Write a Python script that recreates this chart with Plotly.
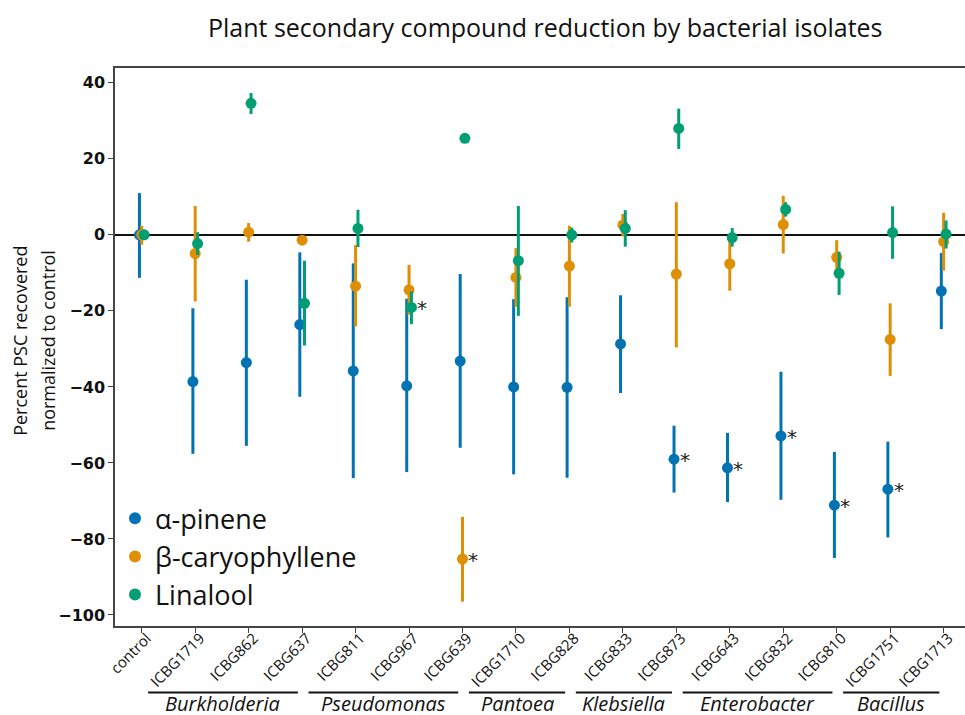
import plotly.graph_objects as go

categories = ["control", "ICBG1719", "ICBG862", "ICBG637", "ICBG811", "ICBG967", "ICBG639",
              "ICBG1710", "ICBG828", "ICBG833", "ICBG873", "ICBG643", "ICBG832", "ICBG810",
              "ICBG1751", "ICBG1713"]

# alpha-pinene
pinene_mean = [0, -38.6, -33.6, -23.6, -35.8, -39.7, -33.2, -40.0, -40.1, -28.7, -59.0, -61.3, -52.9, -71.1, -66.9, -14.8]
pinene_hi   = [11.0, -19.3, -11.8, -4.6, -7.5, -16.8, -10.3, -16.9, -16.4, -15.9, -50.2, -52.1, -36.0, -57.1, -54.4, -4.8]
pinene_lo   = [-11.3, -57.6, -55.5, -42.6, -64.0, -62.4, -56.0, -63.0, -63.9, -41.6, -67.8, -70.3, -69.7, -85.0, -79.6, -24.8]
pinene_sig  = [False, False, False, False, False, False, False, False, False, False, True, True, True, True, True, False]

# beta-caryophyllene
caryo_mean = [0, -4.9, 0.7, -1.4, -13.5, -14.5, -85.3, -11.2, -8.2, 2.6, -10.3, -7.6, 2.7, -5.9, -27.5, -1.8]
caryo_hi   = [2.4, 7.6, 3.1, -0.4, -2.7, -7.9, -74.2, -3.5, 2.4, 5.5, 8.6, -1.3, 10.3, -1.4, -18.0, 5.8]
caryo_lo   = [-2.6, -17.5, -1.8, -2.6, -24.1, -21.0, -96.5, -18.9, -18.9, -0.4, -29.6, -14.7, -4.9, -9.2, -37.1, -9.4]
caryo_sig  = [False, False, False, False, False, False, True, False, False, False, False, False, False, False, False, False]

# linalool
linal_mean = [0, -2.3, 34.6, -18.0, 1.7, -19.1, 25.4, -6.8, 0.0, 1.7, 28.0, -0.7, 6.7, -10.1, 0.6, 0.2]
linal_hi   = [1.0, 0.7, 37.3, -6.8, 6.6, -14.9, 26.4, 7.6, 1.9, 6.5, 33.2, 1.8, 8.6, -4.4, 7.5, 3.8]
linal_lo   = [-1.0, -5.3, 31.8, -29.1, -3.2, -23.5, 24.4, -21.3, -2.0, -3.1, 22.6, -3.1, 4.8, -15.8, -6.3, -3.6]
linal_sig  = [False, False, False, False, False, True, False, False, False, False, False, False, False, False, False, False]

genera = ["Burkholderia", "Pseudomonas", "Pantoea", "Klebsiella", "Enterobacter", "Bacillus"]
genus_first = [1, 4, 7, 9, 11, 14]
genus_last = [3, 6, 8, 10, 13, 15]

y_title_lines = ["Percent PSC recovered", "normalized to control"]

series = [
    ("α-pinene", "#0173b2", pinene_mean, pinene_hi, pinene_lo, pinene_sig, -0.043),
    ("β-caryophyllene", "#de8f05", caryo_mean, caryo_hi, caryo_lo, caryo_sig, 0.0),
    ("Linalool", "#029e73", linal_mean, linal_hi, linal_lo, linal_sig, 0.045),
]

fig = go.Figure()
annotations = []
for name, color, mean, hi, lo, sig, off in series:
    xs = [i + off for i in range(len(categories))]
    fig.add_trace(go.Scatter(
        x=xs, y=mean, mode="markers", name=name,
        marker=dict(color=color, size=11, line=dict(width=0)),
        error_y=dict(type="data", symmetric=False,
                     array=[h - m for h, m in zip(hi, mean)],
                     arrayminus=[m - l for m, l in zip(mean, lo)],
                     color=color, thickness=3, width=0),
    ))
    for x, y, s in zip(xs, mean, sig):
        if s:
            annotations.append(dict(x=x, y=y, xref="x", yref="y", text="*", showarrow=False,
                                    xanchor="left", yanchor="middle", xshift=4, yshift=-1,
                                    font=dict(family="DejaVu Sans", size=20, color="#222")))

shapes = []
for g, a, b in zip(genera, genus_first, genus_last):
    x0 = a - 0.88
    x1 = b - 0.08
    shapes.append(dict(type="line", xref="x", yref="paper", x0=x0, x1=x1, y0=-0.119, y1=-0.119,
                       line=dict(color="#111", width=2)))
    annotations.append(dict(x=(x0 + x1) / 2, y=-0.139, xref="x", yref="paper", text=f"<i>{g}</i>",
                            showarrow=False, xanchor="center", yanchor="middle",
                            font=dict(family="Open Sans", size=20, color="#111")))

for line_text, px in zip(y_title_lines, [20, 48]):
    annotations.append(dict(x=(px - 115) / 850, y=0.511, xref="paper", yref="paper",
                            text=line_text, textangle=-90, showarrow=False,
                            xanchor="center", yanchor="middle",
                            font=dict(family="Open Sans", size=18, color="#111")))

fig.update_layout(
    width=965, height=715,
    margin=dict(l=115, r=0, t=68, b=89, autoexpand=False),
    paper_bgcolor="white", plot_bgcolor="white",
    title=dict(text="Plant secondary compound reduction by bacterial isolates",
               x=0.565, xanchor="center", y=1 - 28 / 715, yanchor="middle", automargin=False,
               font=dict(family="Open Sans", size=25, color="#111")),
    showlegend=True,
    legend=dict(x=0.0, y=0.012, xanchor="left", yanchor="bottom",
                font=dict(family="Open Sans", size=27, color="#111"),
                bgcolor="rgba(0,0,0,0)", itemsizing="constant", tracegroupgap=0),
    shapes=shapes,
    annotations=annotations,
)
fig.update_xaxes(range=[-0.5, 15.4], tickmode="array", tickvals=list(range(len(categories))),
                 ticktext=categories, tickangle=-45, showline=True, mirror=True, automargin=False,
                 linecolor="#444", linewidth=1.5, ticks="outside", ticklen=5, tickcolor="#444",
                 showgrid=False, zeroline=False, ticklabelstandoff=-9, ticklabelshift=5,
                 tickfont=dict(family="Open Sans", size=15, color="#111"))
fig.update_yaxes(range=[-102.9, 43.9], tickmode="array", tickvals=[40, 20, 0, -20, -40, -60, -80, -100],
                 ticktext=["40", "20", "0", "\u221220", "\u221240", "\u221260", "\u221280", "\u2212100"],
                 showline=True, linecolor="#444", linewidth=1.5, ticks="outside", ticklen=5,
                 tickcolor="#444", showgrid=False, zeroline=True, zerolinecolor="#111",
                 zerolinewidth=1.5, automargin=False,
                 tickfont=dict(family="DejaVu Sans", size=16, color="#111", weight="bold"))

fig.write_html("out.html", config={"displayModeBar": False},
               post_script="document.body.style.margin='0';document.body.style.padding='0';")
